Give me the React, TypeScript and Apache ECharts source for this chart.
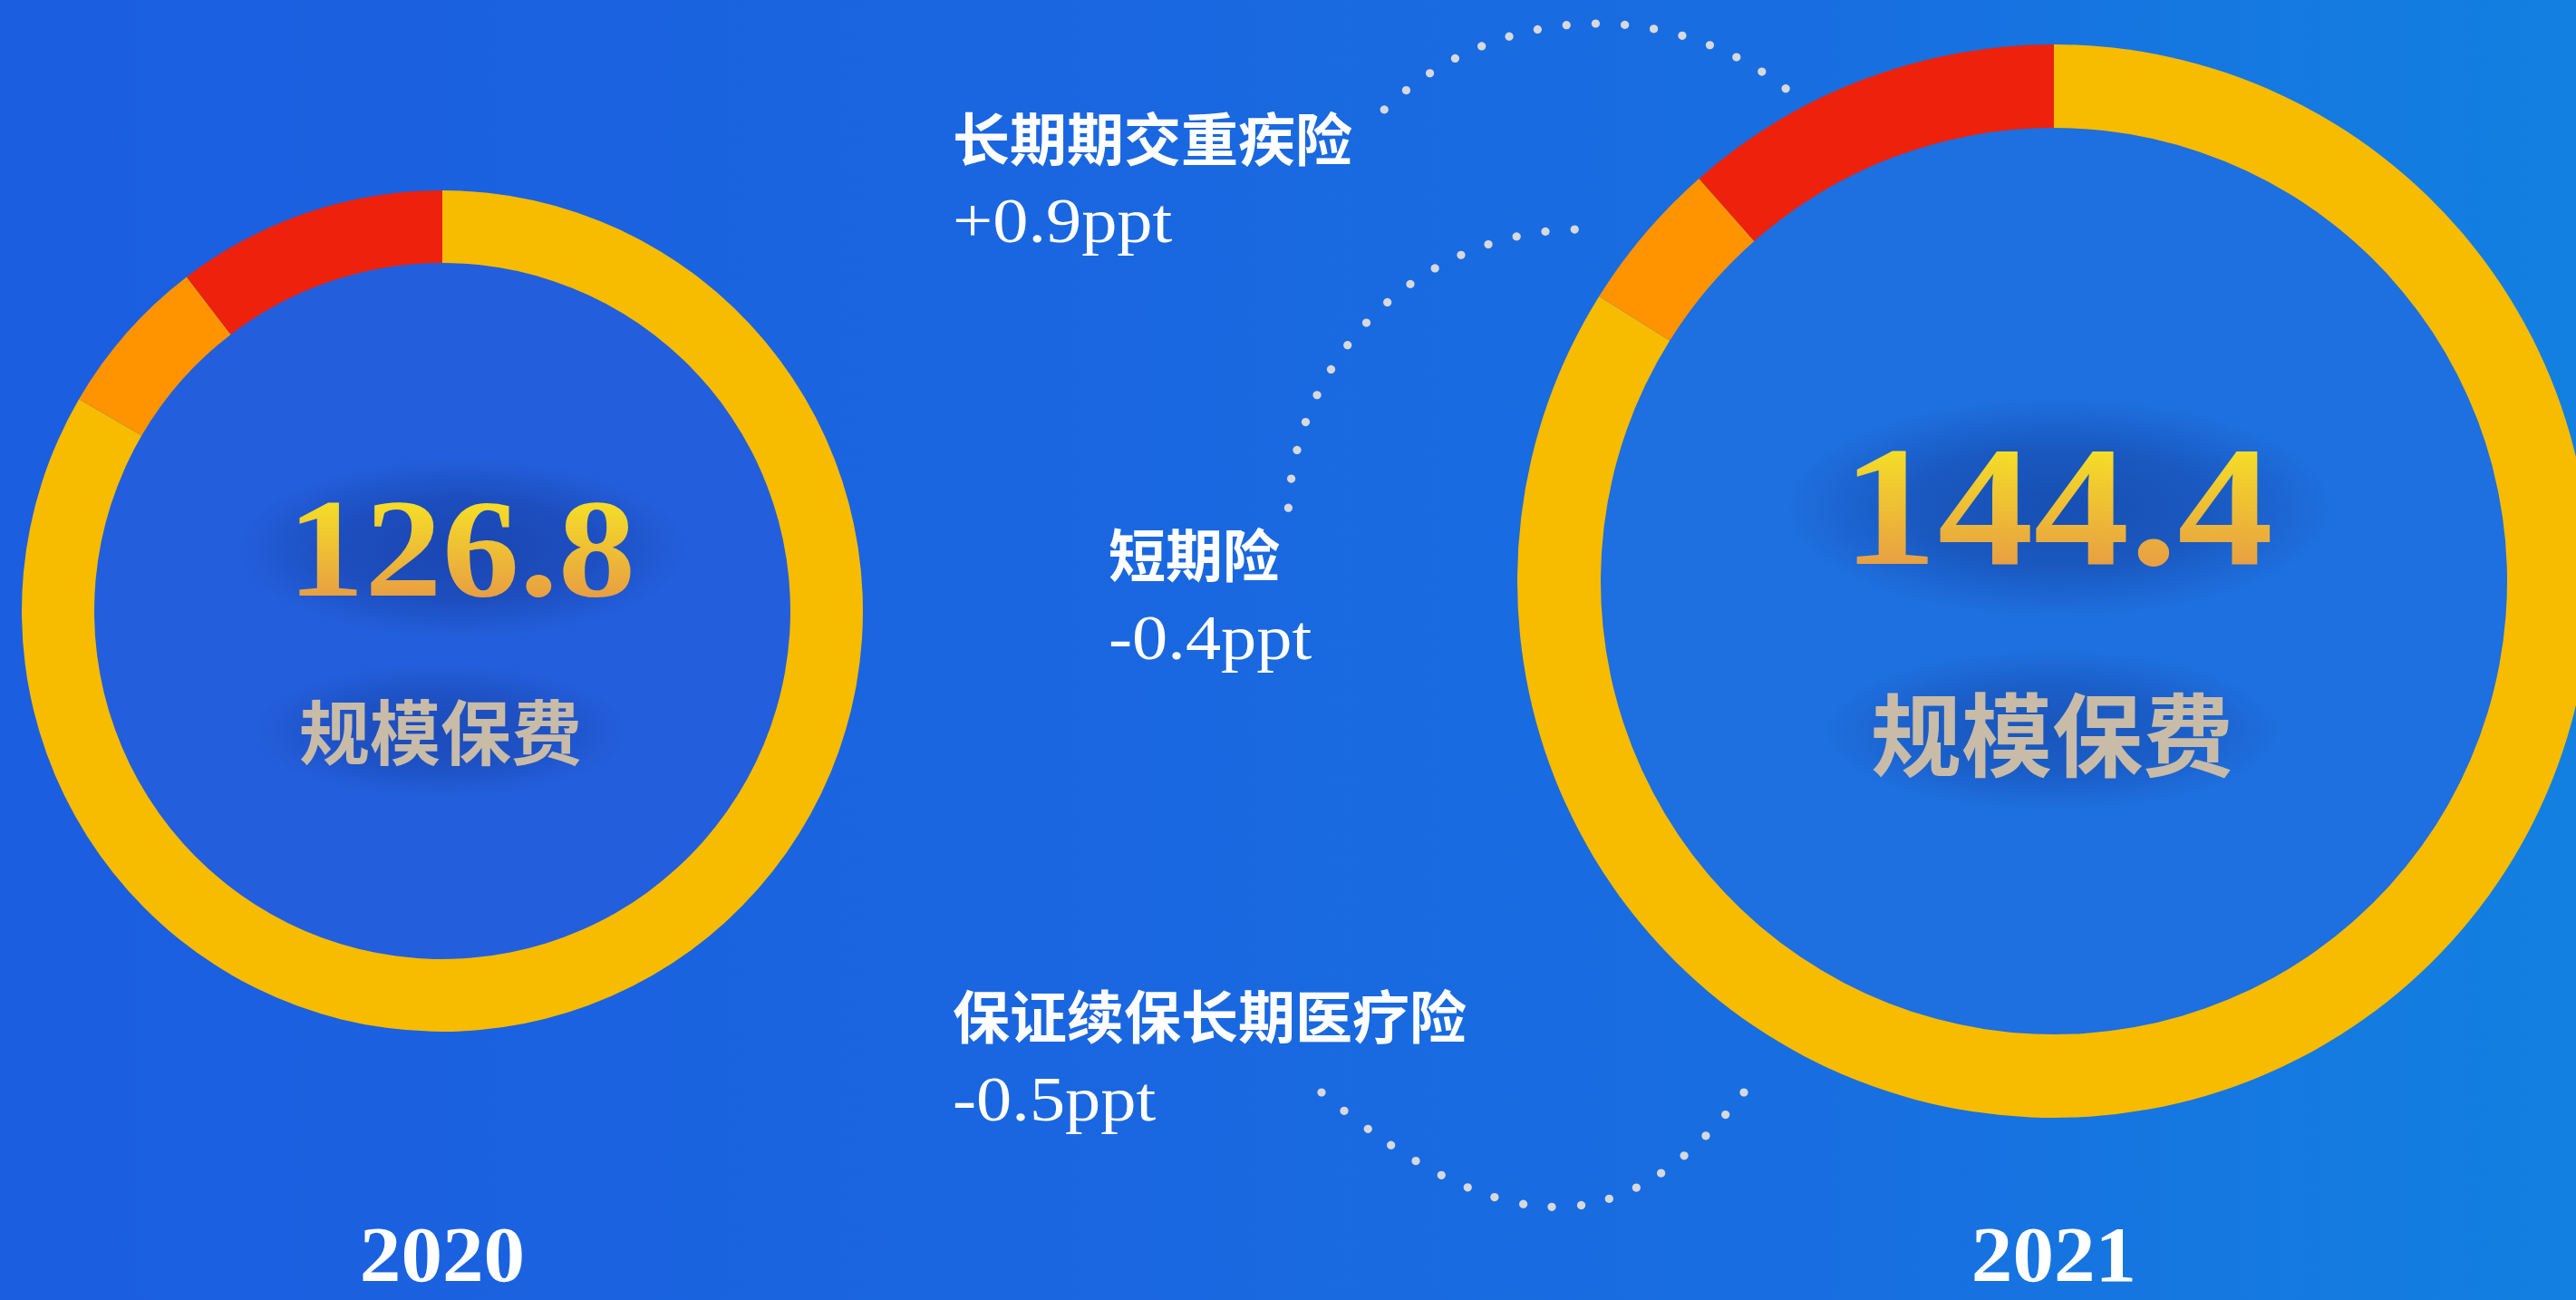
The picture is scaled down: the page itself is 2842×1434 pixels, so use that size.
import React, { useEffect, useRef } from 'react';
import * as echarts from 'echarts';

// ---- data ----
const years = ['2020', '2021'];
const totals = ['126.8', '144.4'];
const totalLabel = '规模保费';
const categories = ['保证续保长期医疗险', '短期险', '长期期交重疾险'];
const share2020 = [83.4, 6.2, 10.4];
const share2021 = [83.9, 4.6, 11.5];
const changes = ['-0.5ppt', '-0.4ppt', '+0.9ppt'];
const segColors = ['#f7bb00', '#ff9400', '#ee220c'];

const W = 2842;
const H = 1434;

const CJK = '"Noto Sans CJK SC", "Noto Sans CJK TC", sans-serif';
const SERIF = '"Liberation Serif", "DejaVu Serif", serif';

function arcDots(cx: number, cy: number, r: number, a0: number, a1: number, n: number) {
  const pts: number[][] = [];
  for (let i = 0; i < n; i++) {
    const a = ((a0 + ((a1 - a0) * i) / (n - 1)) * Math.PI) / 180;
    pts.push([cx + r * Math.cos(a), cy - r * Math.sin(a)]);
  }
  return pts;
}

function bezierDots(p: number[][], n: number) {
  const samples: number[][] = [];
  const N = 600;
  for (let i = 0; i <= N; i++) {
    const t = i / N;
    const u = 1 - t;
    const x = u * u * u * p[0][0] + 3 * u * u * t * p[1][0] + 3 * u * t * t * p[2][0] + t * t * t * p[3][0];
    const y = u * u * u * p[0][1] + 3 * u * u * t * p[1][1] + 3 * u * t * t * p[2][1] + t * t * t * p[3][1];
    samples.push([x, y]);
  }
  const len: number[] = [0];
  for (let i = 1; i <= N; i++) {
    len.push(len[i - 1] + Math.hypot(samples[i][0] - samples[i - 1][0], samples[i][1] - samples[i - 1][1]));
  }
  const total = len[N];
  const pts: number[][] = [];
  let j = 0;
  for (let k = 0; k < n; k++) {
    const target = (total * k) / (n - 1);
    while (j < N && len[j] < target) j++;
    pts.push(samples[j]);
  }
  return pts;
}

function glow(cx: number, cy: number, rx: number, ry: number, alpha: number) {
  return {
    type: 'ellipse',
    z: 3,
    silent: true,
    shape: { cx, cy, rx, ry },
    style: {
      fill: new echarts.graphic.RadialGradient(0.5, 0.5, 0.5, [
        { offset: 0, color: `rgba(16,40,125,${alpha})` },
        { offset: 0.55, color: `rgba(16,40,125,${alpha * 0.7})` },
        { offset: 1, color: 'rgba(16,40,125,0)' },
      ]),
    },
  };
}

function applyTextGradient(root: HTMLDivElement | null) {
  if (!root) return;
  const svg = root.querySelector('svg');
  if (!svg) return;
  const ns = 'http://www.w3.org/2000/svg';
  let defs = svg.querySelector('defs');
  if (!defs) {
    defs = document.createElementNS(ns, 'defs');
    svg.insertBefore(defs, svg.firstChild);
  }
  if (!svg.querySelector('#goldTxtGrad')) {
    const lg = document.createElementNS(ns, 'linearGradient');
    lg.setAttribute('id', 'goldTxtGrad');
    lg.setAttribute('x1', '0');
    lg.setAttribute('y1', '0');
    lg.setAttribute('x2', '0');
    lg.setAttribute('y2', '1');
    const stops: [string, string][] = [
      ['0.2', '#f5de27'],
      ['0.85', '#e79b44'],
    ];
    stops.forEach(([o, c]) => {
      const s = document.createElementNS(ns, 'stop');
      s.setAttribute('offset', o);
      s.setAttribute('stop-color', c);
      lg.appendChild(s);
    });
    defs.appendChild(lg);
  }
  svg.querySelectorAll('text').forEach((t) => {
    const txt = (t.textContent || '').trim();
    if (totals.indexOf(txt) >= 0) {
      t.setAttribute('fill', 'url(#goldTxtGrad)');
      (t as any).style.fill = 'url(#goldTxtGrad)';
    }
  });
}

export default function App() {
  const ref = useRef<HTMLDivElement>(null);

  useEffect(() => {
    document.body.style.margin = '0';
    if (!ref.current) return;
    const chart = echarts.init(ref.current, undefined, { renderer: 'svg', width: W, height: H });

    const pie = (name: string, shares: number[], center: number[], radius: number[]) => ({
      type: 'pie',
      name,
      center,
      radius,
      startAngle: 90,
      clockwise: true,
      silent: true,
      z: 2,
      label: { show: false },
      labelLine: { show: false },
      emphasis: { disabled: true },
      itemStyle: { borderWidth: 0 },
      data: categories.map((c, i) => ({ name: c, value: shares[i], itemStyle: { color: segColors[i] } })),
    });

    const dots = [
      ...arcDots(1762, 364, 338, 134.0, 52.0, 16),
      ...arcDots(1744, 576, 323, 91.2, 177.2, 16),
      ...bezierDots([[1458, 1205], [1661, 1375], [1793, 1372], [1924, 1205]], 18),
    ];

    const centerText = (x: number, y: number, text: string, font: string, fill: string, sx = 1) => ({
      type: 'text',
      z: 10,
      x,
      y,
      scaleX: sx,
      style: { text, font, fill, textAlign: 'center', textVerticalAlign: 'middle' },
    });
    const leftText = (x: number, y: number, text: string, font: string, sx = 1) => ({
      type: 'text',
      z: 10,
      x,
      y,
      scaleX: sx,
      style: { text, font, fill: '#ffffff', textAlign: 'left', textVerticalAlign: 'middle' },
    });

    const graphics: any[] = [
      { type: 'circle', z: 1, silent: true, shape: { cx: 488, cy: 674, r: 386 }, style: { fill: '#235fdc' } },
      { type: 'circle', z: 1, silent: true, shape: { cx: 2266, cy: 641, r: 502 }, style: { fill: '#1e6fdf' } },
      glow(509, 605, 250, 100, 0.45),
      glow(486, 806, 210, 75, 0.35),
      glow(2272, 560, 300, 120, 0.45),
      glow(2264, 806, 250, 88, 0.35),
      // totals
      centerText(509, 605, totals[0], `bold 154px ${SERIF}`, '#eebb33', 1.11),
      centerText(486, 804, totalLabel, `bold 78px ${CJK}`, '#c8bba8'),
      centerText(2270, 558, totals[1], `bold 189px ${SERIF}`, '#eebb33', 1.12),
      centerText(2264, 805, totalLabel, `bold 100px ${CJK}`, '#c8bba8'),
      // years
      centerText(488, 1384, years[0], `bold 86px ${SERIF}`, '#ffffff', 1.06),
      centerText(2266, 1384, years[1], `bold 86px ${SERIF}`, '#ffffff', 1.06),
      // category labels
      leftText(1051, 149, categories[2], `bold 63px ${CJK}`),
      leftText(1051, 243, changes[2], `70px ${SERIF}`, 1.12),
      leftText(1223, 608, categories[1], `bold 63px ${CJK}`),
      leftText(1223, 703, changes[1], `70px ${SERIF}`, 1.12),
      leftText(1051, 1117, categories[0], `bold 63px ${CJK}`),
      leftText(1051, 1212, changes[0], `70px ${SERIF}`, 1.12),
      ...dots.map((p) => ({ type: 'circle', z: 5, silent: true, shape: { cx: p[0], cy: p[1], r: 4.6 }, style: { fill: '#d7d9de' } })),
    ];

    chart.on('finished', () => applyTextGradient(ref.current));
    chart.setOption({
      animation: false,
      backgroundColor: 'transparent',
      series: [pie(years[0], share2020, [488, 674], [384, 464]), pie(years[1], share2021, [2266, 641], [500, 592])],
      graphic: graphics,
    });
    applyTextGradient(ref.current);
    const raf = requestAnimationFrame(() => applyTextGradient(ref.current));
    const tm = setTimeout(() => applyTextGradient(ref.current), 50);

    return () => {
      cancelAnimationFrame(raf);
      clearTimeout(tm);
      chart.dispose();
    };
  }, []);

  return (
    <div
      ref={ref}
      style={{
        width: W,
        height: H,
        background: 'linear-gradient(90deg, #1b5ee0 0%, #1a66e0 40%, #186ee0 70%, #1280e1 100%)',
      }}
    />
  );
}
